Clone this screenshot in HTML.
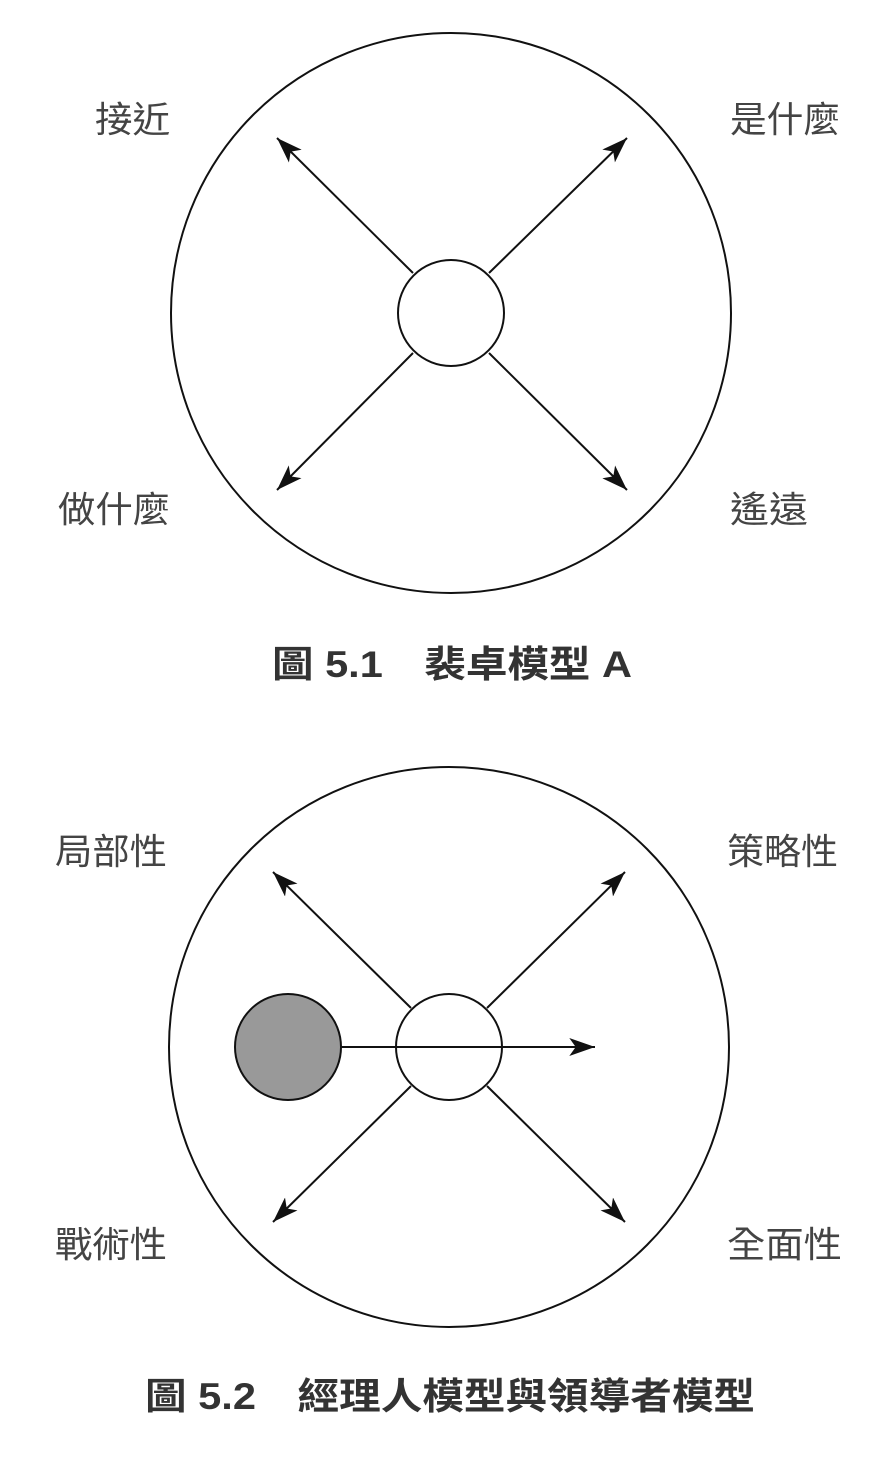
<!DOCTYPE html>
<html><head><meta charset="utf-8"><style>
html,body{margin:0;padding:0;background:#fff;}
svg{display:block;}
.l{font-family:"Liberation Sans","Noto Sans CJK TC",sans-serif;font-size:36px;fill:#444;}
.c{font-family:"Liberation Sans","Noto Sans CJK TC",sans-serif;font-size:37px;font-weight:bold;fill:#333;}
</style></head><body>
<svg width="886" height="1458" viewBox="0 0 886 1458" xmlns="http://www.w3.org/2000/svg">
<defs>
<marker id="b" viewBox="0 0 20 14" markerWidth="26" markerHeight="18" refX="20" refY="7" orient="auto" markerUnits="userSpaceOnUse"><path d="M0,0 L20,7 L0,14 L5,7 Z" fill="#111"/></marker></defs>
<g stroke="#111" stroke-width="2" fill="none">
<circle cx="451" cy="313" r="280"/>
<circle cx="451" cy="313" r="53"/>
<line x1="413" y1="273" x2="277" y2="138" marker-end="url(#b)"/>
<line x1="489" y1="273" x2="627" y2="138" marker-end="url(#b)"/>
<line x1="413" y1="353" x2="277" y2="490" marker-end="url(#b)"/>
<line x1="489" y1="353" x2="627" y2="490" marker-end="url(#b)"/>
<circle cx="449" cy="1047" r="280"/>
<circle cx="449" cy="1047" r="53"/>
<circle cx="288" cy="1047" r="53" fill="#999"/>
<line x1="341" y1="1047" x2="595" y2="1047" marker-end="url(#b)"/>
<line x1="411" y1="1008" x2="273" y2="872" marker-end="url(#b)"/>
<line x1="487" y1="1008" x2="625" y2="872" marker-end="url(#b)"/>
<line x1="411" y1="1086" x2="273" y2="1222" marker-end="url(#b)"/>
<line x1="487" y1="1086" x2="625" y2="1222" marker-end="url(#b)"/>
</g>
<text class="l" x="95" y="132" textLength="75" lengthAdjust="spacingAndGlyphs">接近</text>
<text class="l" x="730" y="132" textLength="110" lengthAdjust="spacingAndGlyphs">是什麼</text>
<text class="l" x="58" y="522" textLength="112" lengthAdjust="spacingAndGlyphs">做什麼</text>
<text class="l" x="730" y="522" textLength="78" lengthAdjust="spacingAndGlyphs">遙遠</text>
<text class="c" x="272" y="677" textLength="360" lengthAdjust="spacingAndGlyphs">圖 5.1　裴卓模型 A</text>
<text class="l" x="55" y="864" textLength="112" lengthAdjust="spacingAndGlyphs">局部性</text>
<text class="l" x="727" y="864" textLength="111" lengthAdjust="spacingAndGlyphs">策略性</text>
<text class="l" x="55" y="1257" textLength="112" lengthAdjust="spacingAndGlyphs">戰術性</text>
<text class="l" x="727" y="1257" textLength="115" lengthAdjust="spacingAndGlyphs">全面性</text>
<text class="c" x="145" y="1409" textLength="610" lengthAdjust="spacingAndGlyphs">圖 5.2　經理人模型與領導者模型</text>
</svg>
</body></html>
